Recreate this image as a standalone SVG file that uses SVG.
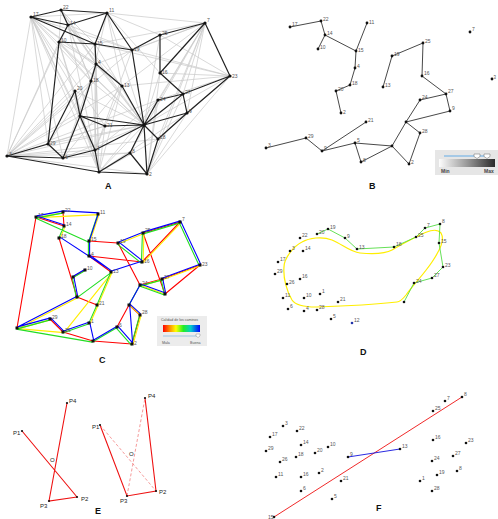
<svg xmlns="http://www.w3.org/2000/svg" width="498" height="519" viewBox="0 0 498 519">
<style>
text{font-family:"Liberation Sans",Arial,sans-serif}
.lb{font-size:5px;fill:#555}
.pl{font-size:9px;font-weight:bold;fill:#111}
.d{fill:#111}
.ga{fill:none;stroke:#c8c8c8;stroke-width:0.7}
.ka{fill:none;stroke:#222;stroke-width:1.2}
.kb{fill:none;stroke:#333;stroke-width:0.9}
.cr{fill:none;stroke:#ff0000;stroke-width:1.1}
.cy{fill:none;stroke:#ffee00;stroke-width:1.1}
.cg{fill:none;stroke:#22dd22;stroke-width:1.1}
.cb{fill:none;stroke:#0000ff;stroke-width:1.1}
.pe{font-size:6px;fill:#222}
.re{fill:none;stroke:#ee1111;stroke-width:1.1}
</style>
<rect width="498" height="519" fill="#fff"/>

<!-- ============ PANEL A ============ -->
<g id="panelA">
<g id="a-edges">
<path class="ga" d="M7 156 L31 17 M7 156 L68 25 M7 156 L59 42 M7 156 L95 44 M7 156 L96 64 M7 156 L91 81 M7 156 L75 91 M7 156 L80 116 M7 156 L105 126 M7 156 L122 86 M7 156 L144 125 M7 156 L95 150 M7 156 L158 139 M7 156 L158 100 M7 156 L132 50 M7 156 L130 153 M7 156 L147 174
M31 17 L96 64 M31 17 L91 81 M31 17 L75 91 M31 17 L80 116 M31 17 L48 144 M31 17 L95 150 M31 17 L105 126 M31 17 L122 86 M31 17 L99 172 M31 17 L63 158 M31 17 L144 125 M31 17 L132 50 M31 17 L107 13
M144 125 L61 10 M144 125 L68 25 M144 125 L59 42 M144 125 L95 44 M144 125 L96 64 M144 125 L91 81 M144 125 L75 91 M144 125 L107 13 M144 125 L48 144 M144 125 L63 158 M144 125 L99 172 M144 125 L160 35 M144 125 L160 73 M144 125 L205 23 M144 125 L230 76
M205 23 L107 13 M205 23 L132 50 M205 23 L122 86 M205 23 L158 100 M205 23 L158 139 M205 23 L187 113 M205 23 L183 94 M205 23 L96 64 M205 23 L95 44 M205 23 L147 174 M205 23 L130 153
M230 76 L132 50 M230 76 L160 35 M230 76 L158 100 M230 76 L160 73 M230 76 L158 139 M230 76 L147 174 M230 76 L122 86 M230 76 L95 44
M99 172 L75 91 M99 172 L80 116 M99 172 L91 81 M99 172 L96 64 M99 172 L122 86 M99 172 L105 126 M99 172 L59 42 M99 172 L68 25 M99 172 L158 100 M99 172 L158 139 M99 172 L187 113 M99 172 L95 44
M147 174 L183 94 M147 174 L187 113 M147 174 L158 100 M147 174 L160 73
M107 13 L160 35 M107 13 L160 73 M107 13 L122 86 M107 13 L91 81
M61 10 L95 44 M61 10 L96 64 M61 10 L91 81 M61 10 L59 42
M48 144 L105 126 M63 158 L122 86 M63 158 L96 64 M48 144 L91 81 M63 158 L130 153
M95 150 L122 86 M95 150 L96 64 M95 150 L132 50 M95 150 L158 100 M95 150 L95 44
M68 25 L132 50 M68 25 L122 86 M68 25 L96 64 M68 25 L91 81
M59 42 L91 81 M59 42 L96 64 M59 42 L80 116"/>
<path class="ka" d="M31 17 L61 10 M61 10 L107 13 M31 17 L68 25 M61 10 L68 25 M68 25 L107 13 M68 25 L59 42 M31 17 L95 44 M59 42 L95 44 M107 13 L95 44 M95 44 L132 50 M107 13 L132 50 M132 50 L160 35 M160 35 L205 23 M160 35 L160 73 M205 23 L160 73 M205 23 L230 76 M230 76 L183 94 M160 73 L183 94 M183 94 L158 100 M183 94 L187 113 M158 100 L144 125 M187 113 L144 125 M230 76 L187 113 M132 50 L144 125 M95 44 L96 64 M96 64 L91 81 M91 81 L80 116 M96 64 L122 86 M122 86 L144 125 M75 91 L80 116 M80 116 L144 125 M80 116 L105 126 M105 126 L144 125 M75 91 L48 144 M59 42 L48 144 M80 116 L63 158 M80 116 L95 150 M48 144 L7 156 M7 156 L63 158 M7 156 L99 172 M63 158 L95 150 M95 150 L144 125 M95 150 L99 172 M99 172 L130 153 M130 153 L144 125 M130 153 L147 174 M144 125 L147 174 M144 125 L158 139 M158 139 L147 174 M158 139 L187 113 M99 172 L147 174 M48 144 L63 158 M144 125 L183 94"/>
</g>
<g id="a-n17"><circle class="d" cx="31" cy="17" r="1.6"/><text class="lb" x="33" y="16">17</text></g>
<g id="a-n22"><circle class="d" cx="61" cy="10" r="1.6"/><text class="lb" x="63" y="9">22</text></g>
<g id="a-n11"><circle class="d" cx="107" cy="13" r="1.6"/><text class="lb" x="109" y="12">11</text></g>
<g id="a-n14"><circle class="d" cx="68" cy="25" r="1.6"/><text class="lb" x="70" y="25">14</text></g>
<g id="a-n10"><circle class="d" cx="59" cy="42" r="1.6"/><text class="lb" x="61" y="42">10</text></g>
<g id="a-n15"><circle class="d" cx="95" cy="44" r="1.6"/><text class="lb" x="97" y="45">15</text></g>
<g id="a-n25"><circle class="d" cx="160" cy="35" r="1.6"/><text class="lb" x="162" y="35">25</text></g>
<g id="a-n7"><circle class="d" cx="205" cy="23" r="1.6"/><text class="lb" x="207" y="22">7</text></g>
<g id="a-n19"><circle class="d" cx="132" cy="50" r="1.6"/><text class="lb" x="134" y="51">19</text></g>
<g id="a-n4"><circle class="d" cx="96" cy="64" r="1.6"/><text class="lb" x="98" y="64">4</text></g>
<g id="a-n16"><circle class="d" cx="160" cy="73" r="1.6"/><text class="lb" x="162" y="74">16</text></g>
<g id="a-n23"><circle class="d" cx="230" cy="76" r="1.6"/><text class="lb" x="232" y="78">23</text></g>
<g id="a-n18"><circle class="d" cx="91" cy="81" r="1.6"/><text class="lb" x="93" y="82">18</text></g>
<g id="a-n13"><circle class="d" cx="122" cy="86" r="1.6"/><text class="lb" x="124" y="87">13</text></g>
<g id="a-n20"><circle class="d" cx="75" cy="91" r="1.6"/><text class="lb" x="77" y="90">20</text></g>
<g id="a-n27"><circle class="d" cx="183" cy="94" r="1.6"/><text class="lb" x="185" y="94">27</text></g>
<g id="a-n24"><circle class="d" cx="158" cy="100" r="1.6"/><text class="lb" x="160" y="101">24</text></g>
<g id="a-n26"><circle class="d" cx="80" cy="116" r="1.6"/></g>
<g id="a-n21"><circle class="d" cx="105" cy="126" r="1.6"/><text class="lb" x="107" y="127">21</text></g>
<g id="a-n9"><circle class="d" cx="187" cy="113" r="1.6"/><text class="lb" x="189" y="113">9</text></g>
<g id="a-n5"><circle class="d" cx="144" cy="125" r="1.8"/></g>
<g id="a-n3"><circle class="d" cx="7" cy="156" r="1.6"/><text class="lb" x="9" y="156">3</text></g>
<g id="a-n29"><circle class="d" cx="48" cy="144" r="1.6"/><text class="lb" x="50" y="145">29</text></g>
<g id="a-n6"><circle class="d" cx="63" cy="158" r="1.6"/><text class="lb" x="65" y="159">6</text></g>
<g id="a-n12"><circle class="d" cx="95" cy="150" r="1.6"/><text class="lb" x="97" y="150">1</text></g>
<g id="a-n1"><circle class="d" cx="99" cy="172" r="1.6"/></g>
<g id="a-n28"><circle class="d" cx="158" cy="139" r="1.6"/><text class="lb" x="160" y="139">28</text></g>
<g id="a-n8"><circle class="d" cx="130" cy="153" r="1.6"/><text class="lb" x="132" y="153">8</text></g>
<g id="a-n2"><circle class="d" cx="147" cy="174" r="1.6"/><text class="lb" x="149" y="176">2</text></g>
<text class="pl" x="105" y="189">A</text>
</g>

<!-- ============ PANEL B ============ -->
<g id="panelB">
<g id="b-edges">
<path class="kb" d="M290 27 L321 21 L325 35 L318 49 M325 35 L356 51 L367 23 M356 51 L355 68 L350 85 L336 91 L341 113
M383 87 L392 56 L423 43 L422 76 L446 94 L450 111 L406 122 M446 94 L420 100 L406 122 L420 133 L409 164 L392 146 L406 122
M392 146 L355 143 L361 162 L392 146 M355 143 L322 151 L306 138 L266 148 M322 151 L366 122"/>
</g>
<g id="b-n17"><circle class="d" cx="290" cy="27" r="1.4"/><text class="lb" x="292" y="26">17</text></g>
<g id="b-n22"><circle class="d" cx="321" cy="21" r="1.4"/><text class="lb" x="323" y="21">22</text></g>
<g id="b-n11"><circle class="d" cx="367" cy="23" r="1.4"/><text class="lb" x="369" y="24">11</text></g>
<g id="b-n14"><circle class="d" cx="325" cy="35" r="1.4"/><text class="lb" x="327" y="35">14</text></g>
<g id="b-n10"><circle class="d" cx="318" cy="49" r="1.4"/><text class="lb" x="320" y="49">10</text></g>
<g id="b-n15"><circle class="d" cx="356" cy="51" r="1.4"/><text class="lb" x="358" y="52">15</text></g>
<g id="b-n4"><circle class="d" cx="355" cy="68" r="1.4"/><text class="lb" x="357" y="68">4</text></g>
<g id="b-n18"><circle class="d" cx="350" cy="85" r="1.4"/><text class="lb" x="352" y="85">18</text></g>
<g id="b-n20"><circle class="d" cx="336" cy="91" r="1.4"/><text class="lb" x="338" y="91">20</text></g>
<g id="b-n26"><circle class="d" cx="341" cy="113" r="1.4"/><text class="lb" x="343" y="114">2</text></g>
<g id="b-n25"><circle class="d" cx="423" cy="43" r="1.4"/><text class="lb" x="425" y="43">25</text></g>
<g id="b-n19"><circle class="d" cx="392" cy="56" r="1.4"/><text class="lb" x="394" y="56">19</text></g>
<g id="b-n16"><circle class="d" cx="422" cy="76" r="1.4"/><text class="lb" x="424" y="75">16</text></g>
<g id="b-n13"><circle class="d" cx="383" cy="87" r="1.4"/><text class="lb" x="385" y="87">13</text></g>
<g id="b-n7"><circle class="d" cx="470" cy="32" r="1.4"/><text class="lb" x="472" y="31">7</text></g>
<g id="b-n23"><circle class="d" cx="492" cy="79" r="1.4"/><text class="lb" x="493.6" y="79" style="font-size:4.5px">3</text></g>
<g id="b-n27"><circle class="d" cx="446" cy="94" r="1.4"/><text class="lb" x="448" y="93">27</text></g>
<g id="b-n24"><circle class="d" cx="420" cy="100" r="1.4"/><text class="lb" x="422" y="99">24</text></g>
<g id="b-n9"><circle class="d" cx="450" cy="111" r="1.4"/><text class="lb" x="452" y="110">9</text></g>
<g id="b-n5"><circle class="d" cx="406" cy="122" r="1.4"/></g>
<g id="b-n28"><circle class="d" cx="420" cy="133" r="1.4"/><text class="lb" x="422" y="133">28</text></g>
<g id="b-n21"><circle class="d" cx="366" cy="122" r="1.4"/><text class="lb" x="368" y="122">21</text></g>
<g id="b-n29"><circle class="d" cx="306" cy="138" r="1.4"/><text class="lb" x="308" y="138">29</text></g>
<g id="b-n3"><circle class="d" cx="266" cy="148" r="1.4"/><text class="lb" x="268" y="147">3</text></g>
<g id="b-n6"><circle class="d" cx="322" cy="151" r="1.4"/><text class="lb" x="324" y="150">9</text></g>
<g id="b-n12"><circle class="d" cx="355" cy="143" r="1.4"/><text class="lb" x="357" y="142">5</text></g>
<g id="b-n8"><circle class="d" cx="361" cy="162" r="1.4"/><text class="lb" x="363" y="162">8</text></g>
<g id="b-nX"><circle class="d" cx="392" cy="146" r="1.4"/></g>
<g id="b-n2"><circle class="d" cx="409" cy="164" r="1.4"/><text class="lb" x="411" y="164">2</text></g>
<g id="b-legend">
<defs>
<linearGradient id="gw" x1="0" x2="1" y1="0" y2="0"><stop offset="0" stop-color="#fdfdfd"/><stop offset="0.5" stop-color="#999"/><stop offset="1" stop-color="#2a2a2a"/></linearGradient>
<linearGradient id="rb" x1="0" x2="1" y1="0" y2="0"><stop offset="0" stop-color="#ff0000"/><stop offset="0.2" stop-color="#ff9900"/><stop offset="0.35" stop-color="#ffff00"/><stop offset="0.55" stop-color="#22ee22"/><stop offset="0.75" stop-color="#00cccc"/><stop offset="1" stop-color="#0000ff"/></linearGradient>
</defs>
<rect x="435" y="150" width="63" height="25" fill="#e6e6e6"/>
<line x1="444" y1="156" x2="485" y2="156" stroke="#8fbfe6" stroke-width="1.3"/>
<path d="M474 154 h6 v2.5 l-3 2 l-3 -2 z M484 154 h6 v2.5 l-3 2 l-3 -2 z" fill="#fff" stroke="#666" stroke-width="0.5"/>
<rect x="439" y="159" width="56" height="8" fill="url(#gw)"/>
<text x="441" y="173" style="font-size:5px;font-weight:bold;fill:#444">Min</text>
<text x="484" y="173" style="font-size:5px;font-weight:bold;fill:#444">Max</text>
</g>
<text class="pl" x="369" y="189">B</text>
</g>

<!-- ============ PANEL C ============ -->
<g id="panelC">
<g id="c-edges">
<g transform="translate(0,0)"><path class="cr" d="M36 217 L17 328 M89 241 L118 243 M89 256 L142 262 M59 238 L77 297 M77 297 L97 305 M63 332 L93 341 M93 341 L132 344 M118 243 L140 285 M143 233 L165 294 M200 265 L165 294 M129 305 L117 327 M89 256 L111 272 M36 217 L64 226 M63 212 L64 226 M85 270 L73 277 M50 319 L63 332 M129 305 L140 315 M140 315 L132 344 M140 285 L162 279 M143 233 L180 222 M180 222 L142 262 M162 279 L200 265"/></g>
<g transform="translate(1,0.6)"><path class="cy" d="M36 217 L98 214 M111 272 L63 332 M111 272 L89 323 M17 328 L63 332 M36 217 L63 212 M64 226 L59 238 M98 214 L89 241 M77 297 L17 328 M17 328 L50 319 M89 323 L97 305 M129 305 L140 315 M140 315 L132 344 M140 285 L162 279 M140 285 L165 294 M118 243 L143 233 M143 233 L142 262 M180 222 L142 262 M162 279 L200 265"/></g>
<g transform="translate(-0.6,1.1)"><path class="cg" d="M17 328 L93 341 M77 297 L111 272 M111 272 L97 305 M36 217 L89 241 M36 217 L63 212 M64 226 L59 238 M98 214 L89 241 M89 241 L89 256 M85 270 L73 277 M73 277 L77 297 M17 328 L50 319 M63 332 L89 323 M93 341 L117 327 M89 323 L97 305 M117 327 L132 344 M140 315 L132 344 M129 305 L140 285 M140 285 L162 279 M140 285 L165 294 M162 279 L165 294 M143 233 L180 222 M118 243 L142 262 M143 233 L142 262 M180 222 L200 265"/></g>
<g transform="translate(0.6,-1.1)"><path class="cb" d="M59 238 L111 272 M63 212 L98 214 M111 272 L142 262 M89 323 L93 341 M36 217 L63 212 M36 217 L64 226 M98 214 L89 241 M89 241 L89 256 M89 256 L111 272 M85 270 L73 277 M73 277 L77 297 M77 297 L17 328 M17 328 L50 319 M50 319 L63 332 M63 332 L89 323 M93 341 L117 327 M117 327 L132 344 M129 305 L140 315 M129 305 L132 344 M129 305 L140 285 M162 279 L165 294 M118 243 L143 233 M143 233 L180 222 M118 243 L142 262 M180 222 L200 265 M162 279 L200 265 M140 285 L165 294"/></g>
</g>
<g id="c-n17"><rect class="d" x="34.5" y="215.5" width="3" height="3"/><text class="lb" x="38" y="217">17</text></g>
<g id="c-n22"><rect class="d" x="61.5" y="210.5" width="3" height="3"/><text class="lb" x="65" y="212">22</text></g>
<g id="c-n11"><rect class="d" x="96.5" y="212.5" width="3" height="3"/><text class="lb" x="100" y="214">11</text></g>
<g id="c-n14"><rect class="d" x="62.5" y="224.5" width="3" height="3"/><text class="lb" x="66" y="226">14</text></g>
<g id="c-n10"><rect class="d" x="57.5" y="236.5" width="3" height="3"/><text class="lb" x="61" y="238">18</text></g>
<g id="c-n15"><rect class="d" x="87.5" y="239.5" width="3" height="3"/><text class="lb" x="91" y="241">15</text></g>
<g id="c-n4"><rect class="d" x="87.5" y="254.5" width="3" height="3"/><text class="lb" x="91" y="256">4</text></g>
<g id="c-n18"><rect class="d" x="83.5" y="268.5" width="3" height="3"/><text class="lb" x="87" y="270">10</text></g>
<g id="c-n20"><rect class="d" x="71.5" y="275.5" width="3" height="3"/></g>
<g id="c-n13"><rect class="d" x="109.5" y="270.5" width="3" height="3"/><text class="lb" x="113" y="273">13</text></g>
<g id="c-n26"><rect class="d" x="75.5" y="295.5" width="3" height="3"/></g>
<g id="c-n21"><rect class="d" x="95.5" y="303.5" width="3" height="3"/><text class="lb" x="99" y="305">21</text></g>
<g id="c-n19"><rect class="d" x="116.5" y="241.5" width="3" height="3"/><text class="lb" x="120" y="243">19</text></g>
<g id="c-n25"><rect class="d" x="141.5" y="231.5" width="3" height="3"/><text class="lb" x="145" y="232">25</text></g>
<g id="c-n7"><rect class="d" x="178.5" y="220.5" width="3" height="3"/><text class="lb" x="182" y="221">7</text></g>
<g id="c-n16"><rect class="d" x="140.5" y="260.5" width="3" height="3"/><text class="lb" x="144" y="263">16</text></g>
<g id="c-n23"><rect class="d" x="198.5" y="263.5" width="3" height="3"/><text class="lb" x="202" y="266">23</text></g>
<g id="c-n27"><rect class="d" x="160.5" y="277.5" width="3" height="3"/><text class="lb" x="164" y="279">27</text></g>
<g id="c-n9"><rect class="d" x="163.5" y="292.5" width="3" height="3"/></g>
<g id="c-n24"><rect class="d" x="138.5" y="283.5" width="3" height="3"/><text class="lb" x="142" y="285">24</text></g>
<g id="c-n5"><rect class="d" x="127.5" y="303.5" width="3" height="3"/></g>
<g id="c-n28"><rect class="d" x="138.5" y="313.5" width="3" height="3"/><text class="lb" x="142" y="314">28</text></g>
<g id="c-n2"><rect class="d" x="130.5" y="342.5" width="3" height="3"/><text class="lb" x="134" y="345">2</text></g>
<g id="c-n8"><rect class="d" x="115.5" y="325.5" width="3" height="3"/><text class="lb" x="119" y="327">6</text></g>
<g id="c-n3"><rect class="d" x="15.5" y="326.5" width="3" height="3"/></g>
<g id="c-n29"><rect class="d" x="48.5" y="317.5" width="3" height="3"/><text class="lb" x="52" y="319">29</text></g>
<g id="c-n6"><rect class="d" x="61.5" y="330.5" width="3" height="3"/><text class="lb" x="65" y="332">26</text></g>
<g id="c-n12"><rect class="d" x="87.5" y="321.5" width="3" height="3"/><text class="lb" x="91" y="323">1</text></g>
<g id="c-n1"><rect class="d" x="91.5" y="339.5" width="3" height="3"/></g>
<g id="c-legend">
<rect x="157" y="316" width="50" height="30" fill="#ececec"/>
<text x="161" y="321" style="font-size:3.6px;fill:#555">Calidad de los caminos</text>
<rect x="163" y="325" width="37" height="7" fill="url(#rb)"/>
<line x1="163" y1="336" x2="198" y2="336" stroke="#9cc4e4" stroke-width="1"/>
<path d="M196 334 h4 v2 l-2 1.5 l-2 -1.5 z" fill="#fff" stroke="#777" stroke-width="0.4"/>
<text x="162" y="344" style="font-size:3.6px;fill:#555">Mala</text>
<text x="190" y="344" style="font-size:3.6px;fill:#555">Buena</text>
</g>
<text class="pl" x="99" y="363">C</text>
</g>

<!-- ============ PANEL D ============ -->
<g id="panelD">
<g id="d-edges">
<path fill="none" stroke="#ffee00" stroke-width="1.2" d="M284 267 C284 258 294 246 302 242 C309 238 322 236 332 240 C342 244 350 252 360 253 C372 254 385 254 392 250 C402 244 412 239 418 236 C426 232 436 227 441 233 C445 240 440 250 432 262 C424 274 414 284 406 295 C402 300 400 302 397 302 C380 304 350 306 316 307 C306 307 296 306 292 300 C287 292 283 278 284 267 Z"/>
<path fill="none" stroke="#55dd44" stroke-width="0.9" d="M317 234 L328 229 L345 238 L357 249 L394 247 L416 237 L425 228 L440 224 L439 243 L443 267 L432 278 L414 283 L404 302"/>
</g>
<g id="d-n19"><circle class="d" cx="328" cy="229" r="1.3"/><text class="lb" x="330" y="229">19</text></g>
<g id="d-n20"><circle class="d" cx="317" cy="234" r="1.3"/><text class="lb" x="319" y="234">20</text></g>
<g id="d-n22"><circle class="d" cx="300" cy="238" r="1.3"/><text class="lb" x="302" y="237">22</text></g>
<g id="d-n9"><circle class="d" cx="345" cy="238" r="1.3"/><text class="lb" x="347" y="238">9</text></g>
<g id="d-n3"><circle class="d" cx="290" cy="251" r="1.3"/><text class="lb" x="292" y="250">3</text></g>
<g id="d-n14"><circle class="d" cx="303" cy="251" r="1.3"/><text class="lb" x="305" y="250">14</text></g>
<g id="d-n13"><circle class="d" cx="357" cy="249" r="1.3"/><text class="lb" x="359" y="249">13</text></g>
<g id="d-n18"><circle class="d" cx="394" cy="247" r="1.3"/><text class="lb" x="396" y="246">18</text></g>
<g id="d-n25"><circle class="d" cx="416" cy="237" r="1.3"/><text class="lb" x="418" y="237">25</text></g>
<g id="d-n7"><circle class="d" cx="425" cy="228" r="1.3"/><text class="lb" x="427" y="227">7</text></g>
<g id="d-n8"><circle class="d" cx="440" cy="224" r="1.3"/><text class="lb" x="442" y="223">8</text></g>
<g id="d-n15"><circle class="d" cx="439" cy="243" r="1.3"/><text class="lb" x="441" y="243">15</text></g>
<g id="d-n17"><circle class="d" cx="278" cy="262" r="1.3"/><text class="lb" x="280" y="261">17</text></g>
<g id="d-n29"><circle class="d" cx="275" cy="274" r="1.3"/><text class="lb" x="277" y="273">29</text></g>
<g id="d-n26"><circle class="d" cx="287" cy="284" r="1.3"/><text class="lb" x="289" y="284">26</text></g>
<g id="d-n16"><circle class="d" cx="300" cy="279" r="1.3"/><text class="lb" x="302" y="278">16</text></g>
<g id="d-n23"><circle class="d" cx="443" cy="267" r="1.3"/><text class="lb" x="445" y="267">23</text></g>
<g id="d-n27"><circle class="d" cx="432" cy="278" r="1.3"/><text class="lb" x="434" y="277">27</text></g>
<g id="d-n24"><circle class="d" cx="414" cy="283" r="1.3"/><text class="lb" x="416" y="283">24</text></g>
<g id="d-n2"><circle class="d" cx="404" cy="302" r="1.3"/></g>
<g id="d-n11"><circle class="d" cx="283" cy="298" r="1.3"/><text class="lb" x="285" y="297">11</text></g>
<g id="d-n10"><circle class="d" cx="304" cy="298" r="1.3"/><text class="lb" x="306" y="297">10</text></g>
<g id="d-n1"><circle class="d" cx="320" cy="294" r="1.3"/><text class="lb" x="322" y="293">1</text></g>
<g id="d-n21"><circle class="d" cx="338" cy="302" r="1.3"/><text class="lb" x="340" y="301">21</text></g>
<g id="d-n6"><circle class="d" cx="288" cy="309" r="1.3"/><text class="lb" x="290" y="308">6</text></g>
<g id="d-n4"><circle class="d" cx="304" cy="311" r="1.3"/><text class="lb" x="306" y="310">4</text></g>
<g id="d-n28"><circle class="d" cx="317" cy="310" r="1.3"/><text class="lb" x="319" y="309">28</text></g>
<g id="d-n5"><circle class="d" cx="331" cy="319" r="1.3"/><text class="lb" x="333" y="318">5</text></g>
<g id="d-n12"><circle cx="352" cy="323" r="1.3" fill="#2233aa"/><text class="lb" x="354" y="322">12</text></g>
<text class="pl" x="360" y="355">D</text>
</g>

<!-- ============ PANEL E ============ -->
<g id="panelE">
<g id="e-edges">
<path class="re" d="M22 431 L77 497 M67 403 L49 501 L77 497"/>
<path class="re" d="M100 425 L127 496 L156 491 L145 398"/>
<path fill="none" stroke="#f07070" stroke-dasharray="3,2" stroke-width="0.7" d="M100 425 L156 491 M127 496 L145 398"/>
</g>
<g id="e-p1a"><circle class="d" cx="22" cy="431" r="1.1"/><text class="pe" x="13" y="435">P1</text></g>
<g id="e-p4a"><circle class="d" cx="67" cy="403" r="1.1"/><text class="pe" x="69" y="403">P4</text></g>
<g id="e-p2a"><circle class="d" cx="77" cy="497" r="1.1"/><text class="pe" x="81" y="501">P2</text></g>
<g id="e-p3a"><circle class="d" cx="49" cy="501" r="1.1"/><text class="pe" x="40" y="508">P3</text></g>
<text class="pe" x="50" y="462">O</text>
<g id="e-p1b"><circle class="d" cx="100" cy="425" r="1.1"/><text class="pe" x="92" y="429">P1</text></g>
<g id="e-p4b"><circle class="d" cx="145" cy="398" r="1.1"/><text class="pe" x="148" y="398">P4</text></g>
<g id="e-p2b"><circle class="d" cx="156" cy="491" r="1.1"/><text class="pe" x="159" y="494">P2</text></g>
<g id="e-p3b"><circle class="d" cx="127" cy="496" r="1.1"/><text class="pe" x="120" y="503">P3</text></g>
<text class="pe" x="129" y="456">O</text>
<text class="pl" x="95" y="514">E</text>
</g>

<!-- ============ PANEL F ============ -->
<g id="panelF">
<g id="f-edges">
<line x1="274" y1="517" x2="462" y2="397" stroke="#ee1111" stroke-width="0.9"/>
<line x1="348" y1="457" x2="400" y2="449" stroke="#1111dd" stroke-width="0.9"/>
</g>
<g id="f-n3"><circle class="d" cx="283" cy="426" r="1.3"/><text class="lb" x="285" y="425">3</text></g>
<g id="f-n22"><circle class="d" cx="297" cy="431" r="1.3"/><text class="lb" x="299" y="430">22</text></g>
<g id="f-n17"><circle class="d" cx="270" cy="437" r="1.3"/><text class="lb" x="272" y="436">17</text></g>
<g id="f-n14"><circle class="d" cx="301" cy="445" r="1.3"/><text class="lb" x="303" y="444">14</text></g>
<g id="f-n10"><circle class="d" cx="328" cy="447" r="1.3"/><text class="lb" x="330" y="446">10</text></g>
<g id="f-n29"><circle class="d" cx="266" cy="451" r="1.3"/><text class="lb" x="268" y="450">29</text></g>
<g id="f-n20"><circle class="d" cx="315" cy="453" r="1.3"/><text class="lb" x="317" y="452">20</text></g>
<g id="f-n18"><circle class="d" cx="296" cy="457" r="1.3"/><text class="lb" x="298" y="456">18</text></g>
<g id="f-n26"><circle class="d" cx="280" cy="462" r="1.3"/><text class="lb" x="282" y="461">26</text></g>
<g id="f-n9"><circle class="d" cx="348" cy="457" r="1.3"/><text class="lb" x="350" y="456">9</text></g>
<g id="f-n13"><circle class="d" cx="400" cy="449" r="1.3"/><text class="lb" x="402" y="448">13</text></g>
<g id="f-n11"><circle class="d" cx="276" cy="477" r="1.3"/><text class="lb" x="278" y="476">11</text></g>
<g id="f-n16"><circle class="d" cx="301" cy="477" r="1.3"/><text class="lb" x="303" y="476">16</text></g>
<g id="f-n2"><circle class="d" cx="319" cy="473" r="1.3"/><text class="lb" x="321" y="472">2</text></g>
<g id="f-n21"><circle class="d" cx="341" cy="481" r="1.3"/><text class="lb" x="343" y="480">21</text></g>
<g id="f-n6"><circle class="d" cx="301" cy="491" r="1.3"/><text class="lb" x="303" y="490">6</text></g>
<g id="f-n5"><circle class="d" cx="332" cy="499" r="1.3"/><text class="lb" x="334" y="498">5</text></g>
<g id="f-n15"><circle class="d" cx="274" cy="517" r="1.3"/><text class="lb" x="268" y="519">15</text></g>
<g id="f-n8"><circle class="d" cx="462" cy="397" r="1.3"/><text class="lb" x="464" y="396">8</text></g>
<g id="f-n7"><circle class="d" cx="445" cy="401" r="1.3"/><text class="lb" x="447" y="400">7</text></g>
<g id="f-n25"><circle class="d" cx="433" cy="411" r="1.3"/><text class="lb" x="435" y="410">25</text></g>
<g id="f-n16b"><circle class="d" cx="433" cy="440" r="1.3"/><text class="lb" x="435" y="439">16</text></g>
<g id="f-n23"><circle class="d" cx="466" cy="443" r="1.3"/><text class="lb" x="468" y="442">23</text></g>
<g id="f-n27"><circle class="d" cx="453" cy="456" r="1.3"/><text class="lb" x="455" y="455">27</text></g>
<g id="f-n24"><circle class="d" cx="432" cy="461" r="1.3"/><text class="lb" x="434" y="460">24</text></g>
<g id="f-n19"><circle class="d" cx="437" cy="475" r="1.3"/><text class="lb" x="439" y="474">19</text></g>
<g id="f-n8b"><circle class="d" cx="457" cy="471" r="1.3"/><text class="lb" x="459" y="470">8</text></g>
<g id="f-n1"><circle class="d" cx="420" cy="481" r="1.3"/><text class="lb" x="422" y="480">1</text></g>
<g id="f-n28"><circle class="d" cx="432" cy="491" r="1.3"/><text class="lb" x="434" y="490">28</text></g>
<text class="pl" x="376" y="511">F</text>
</g>
</svg>
